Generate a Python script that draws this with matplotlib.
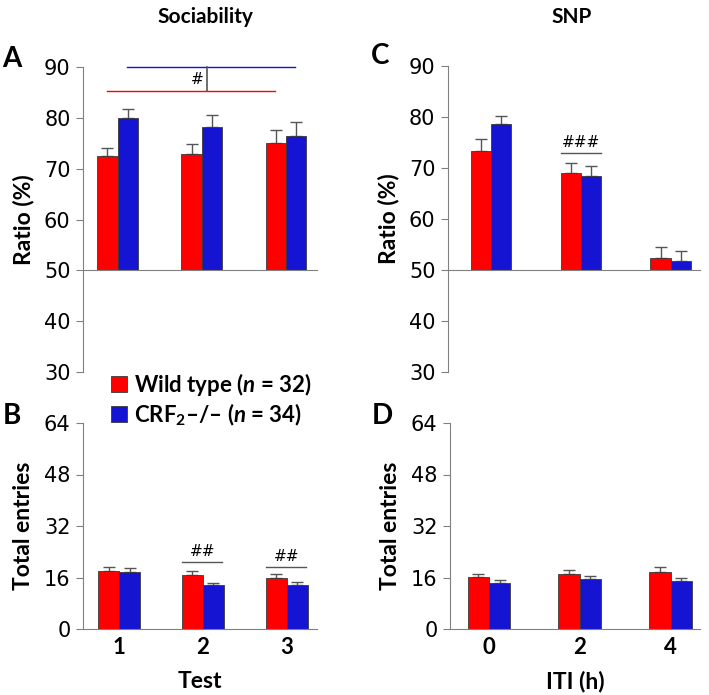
import numpy as np
import matplotlib
matplotlib.use("Agg")
import matplotlib.pyplot as plt
from matplotlib.patches import Patch

plt.rcParams['font.family'] = ['DejaVu Sans']
plt.rcParams['mathtext.fontset'] = 'custom'
plt.rcParams['mathtext.rm'] = 'Lato:bold'
plt.rcParams['mathtext.it'] = 'Lato:italic:bold'
plt.rcParams['mathtext.bf'] = 'Lato:bold'
LBL = ['Lato', 'DejaVu Sans']

# data
soc_labels = ['1', '2', '3']
snp_labels = ['0', '2', '4']

ratio_soc_wt = [72.5, 72.9, 75.0]
ratio_soc_wt_err = [1.6, 1.9, 2.7]
ratio_soc_ko = [80.0, 78.2, 76.5]
ratio_soc_ko_err = [1.7, 2.3, 2.6]

entries_soc_wt = [18.0, 16.8, 15.8]
entries_soc_wt_err = [1.4, 1.1, 1.4]
entries_soc_ko = [17.7, 13.6, 13.6]
entries_soc_ko_err = [1.1, 0.6, 0.9]

ratio_snp_wt = [73.4, 69.1, 52.4]
ratio_snp_wt_err = [2.3, 1.8, 2.2]
ratio_snp_ko = [78.7, 68.5, 51.8]
ratio_snp_ko_err = [1.4, 1.9, 1.9]

entries_snp_wt = [16.1, 17.2, 17.8]
entries_snp_wt_err = [1.0, 1.1, 1.5]
entries_snp_ko = [14.4, 15.5, 14.9]
entries_snp_ko_err = [0.8, 1.1, 0.9]

RED = '#ff0000'
BLUE = '#1414d2'
GRAY = '#808080'
W, H = 709, 695


def px(x0, y0, x1, y1):
    return [x0 / W, 1 - y1 / H, (x1 - x0) / W, (y1 - y0) / H]


def bars(ax, wt, wt_err, ko, ko_err, width, base=0):
    x = np.arange(len(wt))
    for vals, errs, off, col in [(wt, wt_err, -width / 2, RED), (ko, ko_err, width / 2, BLUE)]:
        vals = np.array(vals)
        ax.bar(x + off, vals - base, width, bottom=base, color=col,
               edgecolor='#3a3a3a', linewidth=0.6, zorder=2)
        ax.errorbar(x + off, vals, yerr=[np.zeros(len(vals)), errs], fmt='none',
                    ecolor='#555555', elinewidth=1.0, capsize=4, capthick=1.0, zorder=1)


def style(ax, ylim, yticks, base):
    ax.set_ylim(ylim)
    ax.set_yticks(yticks)
    for s in ['top', 'right']:
        ax.spines[s].set_visible(False)
    ax.spines['left'].set_color(GRAY)
    ax.spines['bottom'].set_color(GRAY)
    ax.spines['bottom'].set_position(('data', base))
    ax.spines['left'].set_bounds(ylim[0], ylim[1])
    ax.tick_params(axis='y', length=5, color=GRAY, labelsize=15, pad=4)
    ax.tick_params(axis='x', length=0, pad=6)


def xlabels(ax, labels):
    ax.set_xticks(range(len(labels)))
    ax.set_xticklabels(labels, family=LBL, fontweight='bold', fontsize=16)


def ylabel(ax, text):
    ax.set_ylabel(text, family=LBL, fontsize=16.5, fontweight='bold', labelpad=7)


fig = plt.figure(figsize=(7.09, 6.95), dpi=100)

axA = fig.add_axes(px(83, 67, 317, 372))
axB = fig.add_axes(px(83, 423, 317, 629))
axC = fig.add_axes(px(448, 66, 700, 372))
axD = fig.add_axes(px(450, 423, 700, 629))

# A
bars(axA, ratio_soc_wt, ratio_soc_wt_err, ratio_soc_ko, ratio_soc_ko_err, 0.24, base=50)
style(axA, (30, 90), [30, 40, 50, 60, 70, 80, 90], 50)
axA.set_xlim(-0.41, 2.37)
axA.set_xticks([])
axA.plot([0.11, 2.11], [90, 90], color=BLUE, lw=1.0, clip_on=False)
axA.plot([-0.13, 1.87], [85.3, 85.3], color=RED, lw=1.0, clip_on=False)
axA.plot([1.065, 1.065], [85.3, 90], color='#555555', lw=1.2, clip_on=False)
axA.text(0.95, 87.6, '#', ha='center', va='center', fontsize=11)
ylabel(axA, 'Ratio (%)')

# B
bars(axB, entries_soc_wt, entries_soc_wt_err, entries_soc_ko, entries_soc_ko_err, 0.25)
style(axB, (0, 64), [0, 16, 32, 48, 64], 0)
axB.set_xlim(-0.43, 2.36)
xlabels(axB, soc_labels)
for g, yl in [(1, 20.8), (2, 19.3)]:
    axB.plot([g - 0.25, g + 0.23], [yl, yl], color='#555555', lw=1.0)
    axB.text(g, yl + 1.0, '##', ha='center', va='bottom', fontsize=11)
axB.set_xlabel('Test', family=LBL, fontsize=16.5, fontweight='bold', labelpad=9)
ylabel(axB, 'Total entries')

# C
bars(axC, ratio_snp_wt, ratio_snp_wt_err, ratio_snp_ko, ratio_snp_ko_err, 0.225, base=50)
style(axC, (30, 90), [30, 40, 50, 60, 70, 80, 90], 50)
axC.set_xlim(-0.478, 2.326)
axC.set_xticks([])
axC.plot([0.78, 1.22], [72.9, 72.9], color='#555555', lw=1.0)
axC.text(1.0, 73.6, '###', ha='center', va='bottom', fontsize=11)
ylabel(axC, 'Ratio (%)')

# D
bars(axD, entries_snp_wt, entries_snp_wt_err, entries_snp_ko, entries_snp_ko_err, 0.235)
style(axD, (0, 64), [0, 16, 32, 48, 64], 0)
axD.set_xlim(-0.43, 2.325)
xlabels(axD, snp_labels)
axD.set_xlabel('ITI (h)', family=LBL, fontsize=16.5, fontweight='bold', labelpad=9)
ylabel(axD, 'Total entries')

# titles and panel letters
fig.text(205 / W, 1 - 17 / H, 'Sociability', ha='center', va='center',
         family=LBL, fontsize=15, fontweight='bold')
fig.text(572 / W, 1 - 17 / H, 'SNP', ha='center', va='center',
         family=LBL, fontsize=15, fontweight='bold')
for lab, x, y in [('A', 12, 59), ('B', 12, 416), ('C', 380, 56), ('D', 382, 416)]:
    fig.text(x / W, 1 - y / H, lab, ha='center', va='center', family=LBL,
             fontsize=20, fontweight='bold')

handles = [Patch(facecolor=RED, edgecolor='#3a3a3a', linewidth=0.6),
           Patch(facecolor=BLUE, edgecolor='#3a3a3a', linewidth=0.6)]
labels = ['Wild type ($n$ = 32)', 'CRF$_2$–/– ($n$ = 34)']
fig.legend(handles, labels, loc='upper left', bbox_to_anchor=(111 / W, 1 - 371 / H),
           frameon=False, prop={'family': LBL, 'weight': 'bold', 'size': 16},
           handlelength=0.7, handleheight=0.75, handletextpad=0.35, labelspacing=0.15,
           borderpad=0, borderaxespad=0)

fig.savefig('out.png', dpi=100)
